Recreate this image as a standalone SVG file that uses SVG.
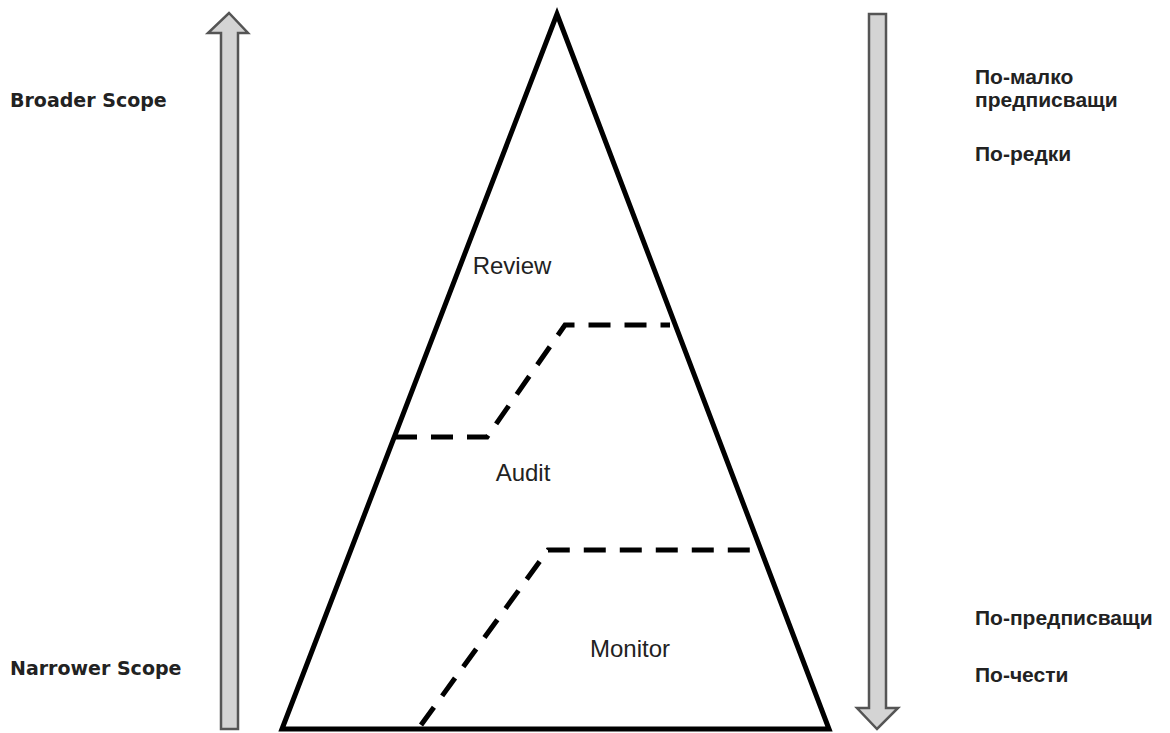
<svg xmlns="http://www.w3.org/2000/svg" width="1170" height="733" viewBox="0 0 1170 733">
<style>
.edge{fill:none;stroke:#000;stroke-width:5;stroke-linejoin:miter}
.dash{fill:none;stroke:#000;stroke-width:5;stroke-dasharray:22,14}
.arrow{fill:#d4d4d4;stroke:#555;stroke-width:2.5}
.lbl{font-family:"DejaVu Sans","Liberation Sans",sans-serif;font-weight:bold;font-size:19px;fill:#222}
.rlbl{font-family:"Liberation Sans",Arial,sans-serif;font-weight:bold;font-size:21px;fill:#222}
.lvl{font-family:"Liberation Sans",Arial,sans-serif;font-size:24px;fill:#222;text-anchor:middle}
</style>
<g id="arrow-up">
<path class="arrow" d="M221,729 L221,33 L208,33 L229,13 L248,33 L238,33 L238,729 Z"/>
</g>
<g id="arrow-down">
<path class="arrow" d="M869,14 L886,14 L886,708 L898,708 L877,729 L857,708 L869,708 Z"/>
</g>
<g id="pyramid">
<path class="edge" d="M282,729 L557,14 L829,729 Z"/>
</g>
<g id="connectors">
<path class="dash" d="M395,437 L487,437 L565,325 L670,325"/>
<path class="dash" d="M421,725 L548,550 L752,550"/>
</g>
<g id="review"><text class="lvl" x="512" y="274">Review</text></g>
<g id="audit"><text class="lvl" x="523" y="481">Audit</text></g>
<g id="monitor"><text class="lvl" x="630" y="657">Monitor</text></g>
<g id="left-labels">
<text class="lbl" x="10" y="107">Broader Scope</text>
<text class="lbl" x="10" y="675">Narrower Scope</text>
</g>
<g id="right-labels">
<text class="rlbl" x="975" y="84">По-малко</text>
<text class="rlbl" x="975" y="107">предписващи</text>
<text class="rlbl" x="975" y="161">По-редки</text>
<text class="rlbl" x="975" y="625">По-предписващи</text>
<text class="rlbl" x="975" y="682">По-чести</text>
</g>
</svg>
